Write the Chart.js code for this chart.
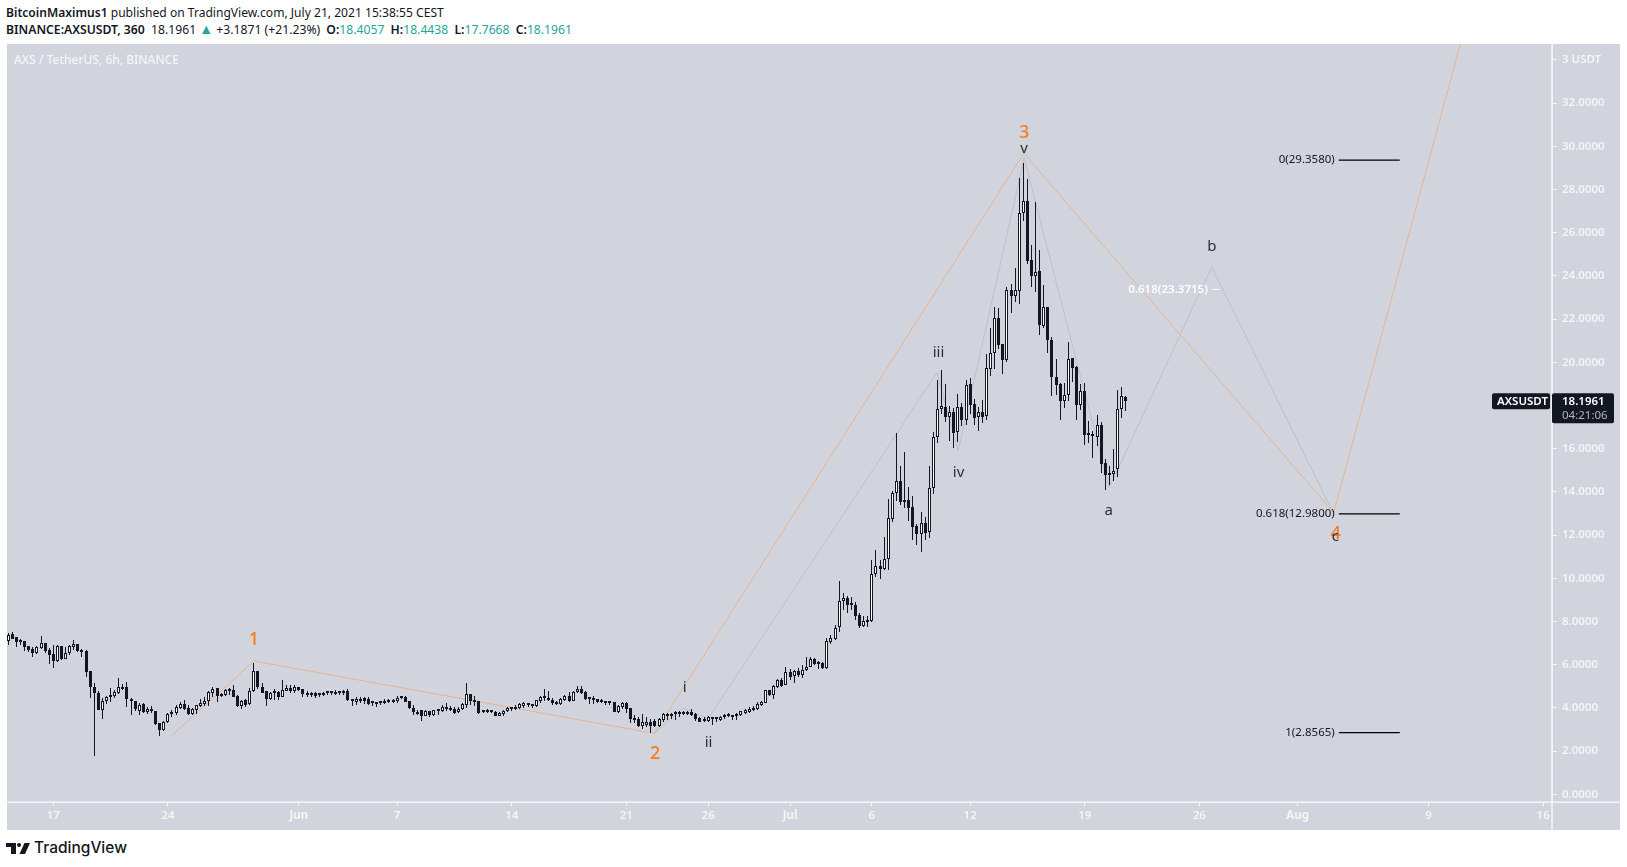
<!DOCTYPE html>
<html>
<head>
<meta charset="utf-8">
<script src="https://cdn.jsdelivr.net/npm/chart.js@4"></script>
<style>
    html, body { margin: 0; padding: 0; background: #fff; width: 1627px; height: 867px; overflow: hidden; }
    body { font-family: "Noto Sans", sans-serif; color: #131722; position: relative; }
    #panel { position: absolute; left: 7px; top: 44px; width: 1613px; height: 786px; background: #d1d4dc; }
    .line { position: absolute; left: 6px; white-space: nowrap; font-size: 12.2px; line-height: 16px; }
    .line b { font-weight: 600; }
    .teal { color: #26a69a; }
    .gap { margin-left: 3px; }
    .tri { font-size: 14px; line-height: 12px; }
    #line1 { top: 5px; font-size: 12.08px; }
    #line2 { top: 22px; }
    #watermark { position: absolute; left: 14px; top: 52px; font-size: 12px; font-weight: 500; line-height: 16px; color: #f4f5f8; }
    #logo { position: absolute; left: 6px; top: 843px; }
    #logoText { position: absolute; left: 34px; top: 838px; font-family: Inter, sans-serif; font-size: 15.5px; font-weight: 500; line-height: 20px; }
</style>
</head>
<body>
<div id="line1" class="line"><b>BitcoinMaximus1</b> published on TradingView.com, July 21, 2021 15:38:55 CEST</div>
<div id="line2" class="line"><b>BINANCE:AXSUSDT, 360</b>&nbsp; 18.1961 <span class="teal tri">▲</span> +3.1871 (+21.23%) <b class="gap">O:</b><span class="teal">18.4057</span> <b class="gap">H:</b><span class="teal">18.4438</span> <b class="gap">L:</b><span class="teal">17.7668</span> <b class="gap">C:</b><span class="teal">18.1961</span></div>
<div id="panel"><canvas id="myChart" width="1613" height="786"></canvas></div>
<div id="watermark">AXS / TetherUS, 6h, BINANCE</div>
<svg id="logo" width="24" height="11" viewBox="0 0 24 11"><path fill="#131722" d="M0 0h10v11H5V4H0z"/><circle fill="#131722" cx="13" cy="2" r="2"/><path fill="#131722" d="M13.5 11L18.5 0H24L19 11z"/></svg>
<div id="logoText">TradingView</div>

<script>
// candles, one every 6h, days are counted from May 17
const firstBarDay = -2.75;

const opens = [
    7.11,7.42,7.27,7.07,7.08,6.87,6.71,6.56,6.79,7.02,
    6.68,6.50,6.19,6.87,6.28,6.53,6.82,6.94,6.62,6.62,
    5.69,4.98,4.71,3.92,4.32,4.55,4.55,4.71,4.95,4.95,
    4.43,4.34,3.87,4.18,3.81,3.93,3.86,3.30,2.98,3.33,
    3.82,3.78,4.00,4.18,4.00,3.72,3.90,4.09,4.18,4.30,
    4.71,4.92,4.64,4.60,4.83,4.83,4.55,4.09,4.37,4.18,
    4.77,5.69,4.95,4.77,4.43,4.67,4.75,4.52,4.80,4.92,
    4.80,4.95,4.86,4.71,4.67,4.67,4.61,4.58,4.72,4.71,
    4.74,4.74,4.75,4.80,4.40,4.27,4.43,4.46,4.43,4.24,
    4.23,4.26,4.24,4.26,4.27,4.32,4.49,4.52,4.30,4.00,
    3.83,3.89,3.64,3.84,3.67,3.86,3.87,4.03,4.00,3.96,
    3.79,3.93,4.15,4.63,4.35,4.30,3.84,3.87,3.87,3.81,
    3.64,3.73,3.86,3.93,3.96,4.00,4.09,4.18,4.15,4.10,
    4.32,4.50,4.41,4.37,4.29,4.18,4.38,4.55,4.33,4.72,
    4.87,4.74,4.44,4.43,4.40,4.37,4.30,4.29,4.26,3.81,
    4.03,4.23,3.98,3.53,3.50,3.15,3.22,3.36,3.41,3.15,
    3.44,3.72,3.72,3.75,3.70,3.78,3.79,3.81,3.72,3.53,
    3.44,3.39,3.55,3.53,3.44,3.58,3.62,3.64,3.64,3.67,
    3.78,3.83,3.89,3.96,4.13,4.24,4.81,4.61,4.98,5.29,
    5.08,5.66,5.49,5.71,5.51,5.76,5.91,6.25,6.06,6.06,
    5.85,7.07,7.20,7.73,8.93,9.09,8.81,8.76,8.30,7.81,
    8.00,8.02,10.21,10.55,10.45,10.88,12.76,13.93,14.49,13.61,
    13.61,13.28,12.42,12.07,12.56,12.13,14.16,16.53,17.86,17.92,
    17.49,17.69,16.76,17.92,17.35,18.98,18.06,17.46,17.69,17.50,
    19.71,20.42,22.04,20.85,20.13,23.34,23.09,23.32,26.90,27.45,
    24.72,24.01,24.21,21.70,22.55,21.02,19.34,18.98,18.23,18.51,
    20.19,19.77,18.04,18.66,16.68,16.63,16.55,17.09,15.32,14.87,
    14.84,15.04,17.82,18.4057
];

const closes = [
    7.37,7.21,7.05,7.04,6.83,6.68,6.56,6.80,6.99,6.65,
    6.46,6.19,6.88,6.28,6.53,6.85,6.96,6.62,6.57,5.68,
    4.98,4.71,3.92,4.34,4.52,4.52,4.74,4.95,4.86,4.43,
    4.34,3.93,4.12,3.81,3.93,3.87,3.26,2.99,3.33,3.73,
    3.73,4.03,4.17,3.96,3.72,3.93,4.12,4.21,4.34,4.74,
    4.89,4.55,4.55,4.83,4.80,4.52,4.09,4.34,4.15,4.77,
    5.69,4.95,4.71,4.43,4.67,4.74,4.52,4.83,4.92,4.78,
    4.95,4.84,4.64,4.58,4.58,4.55,4.58,4.71,4.67,4.67,
    4.64,4.67,4.67,4.37,4.34,4.43,4.34,4.32,4.18,4.21,
    4.20,4.21,4.29,4.37,4.35,4.47,4.44,4.29,4.00,3.80,
    3.72,3.63,3.87,3.66,3.89,3.90,4.03,3.93,3.89,3.78,
    3.95,4.18,4.64,4.32,4.26,3.78,3.79,3.83,3.79,3.64,
    3.76,3.86,4.00,4.00,4.01,4.20,4.23,4.13,4.09,4.35,
    4.50,4.46,4.37,4.23,4.18,4.41,4.55,4.32,4.75,4.86,
    4.69,4.43,4.41,4.38,4.29,4.26,4.23,4.21,3.83,4.07,
    4.23,3.96,3.50,3.44,3.16,3.33,3.35,3.18,3.15,3.49,
    3.72,3.62,3.64,3.70,3.78,3.73,3.72,3.66,3.47,3.36,
    3.39,3.56,3.50,3.49,3.59,3.64,3.67,3.59,3.70,3.84,
    3.89,3.93,4.01,4.18,4.26,4.81,4.58,5.00,5.29,5.03,
    5.65,5.45,5.69,5.54,5.75,5.91,6.25,6.03,6.03,5.85,
    7.08,7.22,7.71,8.93,9.07,8.78,8.75,8.27,7.81,8.01,
    8.03,10.18,10.55,10.45,10.88,12.77,13.93,14.49,13.55,13.55,
    13.27,12.39,12.07,12.54,12.11,14.16,16.52,17.86,17.97,17.49,
    17.69,16.75,17.92,17.33,18.94,18.04,17.44,17.69,17.49,19.72,
    20.42,22.04,20.82,20.13,23.34,23.09,23.34,26.90,27.45,24.71,
    24.01,24.17,21.75,22.55,21.02,19.34,18.97,18.23,18.51,20.14,
    19.76,18.04,18.66,16.65,16.62,16.57,17.09,15.30,14.78,14.79,
    14.99,17.82,18.44,18.1961
];

const highs = [
    7.45,7.51,7.27,7.17,7.08,6.87,6.83,6.87,7.33,7.02,
    6.77,6.91,6.91,6.87,6.83,6.91,7.14,6.94,6.71,6.68,
    5.69,5.14,4.80,4.44,4.55,4.94,4.83,5.37,5.11,5.18,
    4.46,4.34,4.21,4.21,4.06,4.09,3.87,3.32,3.41,3.78,
    3.90,4.13,4.29,4.37,4.12,4.00,4.15,4.40,4.49,4.80,
    4.95,4.92,4.71,4.89,4.91,5.05,4.58,4.37,4.43,4.92,
    6.06,5.69,5.14,4.77,4.74,4.89,4.78,5.29,5.08,5.08,
    5.04,4.98,4.86,4.77,4.74,4.74,4.67,4.74,4.77,4.78,
    4.83,4.80,4.83,4.86,4.43,4.49,4.49,4.49,4.49,4.29,
    4.27,4.29,4.43,4.43,4.43,4.55,4.53,4.55,4.33,4.12,
    3.90,3.90,3.90,3.84,3.90,3.93,4.12,4.21,4.09,4.03,
    4.03,4.24,5.14,4.64,4.55,4.33,3.90,3.93,3.90,3.84,
    3.79,3.90,4.03,4.03,4.15,4.21,4.27,4.24,4.18,4.37,
    4.55,4.87,4.78,4.46,4.33,4.47,4.61,4.73,4.80,5.01,
    5.01,4.77,4.46,4.55,4.41,4.43,4.33,4.30,4.27,4.15,
    4.27,4.26,4.00,3.69,3.56,3.72,3.56,3.47,3.47,3.53,
    3.76,3.78,3.78,3.84,3.84,3.86,3.86,3.93,3.75,3.56,
    3.56,3.62,3.56,3.56,3.62,3.72,3.75,3.69,3.75,3.87,
    3.96,4.03,4.09,4.27,4.30,4.83,4.83,5.04,5.35,5.38,
    5.88,5.79,5.75,5.85,5.99,6.37,6.37,6.31,6.16,6.12,
    7.24,7.39,7.84,9.87,9.32,9.18,9.12,8.92,8.38,8.27,
    8.27,10.85,11.31,10.85,11.93,13.67,14.04,16.72,15.20,15.85,
    14.23,13.81,12.51,13.05,12.84,15.20,16.76,19.18,19.65,18.98,
    17.98,17.87,18.54,18.10,19.18,19.26,18.29,17.92,18.26,20.39,
    21.58,22.56,22.52,20.85,23.50,23.63,24.35,28.52,29.21,28.47,
    25.42,27.41,25.19,23.58,22.58,21.19,20.17,19.06,19.06,20.93,
    20.19,19.83,18.98,19.03,17.28,16.82,17.56,17.25,15.52,15.20,
    15.98,18.71,18.84,18.4438
];

const lows = [
    6.91,7.17,6.83,6.91,6.65,6.60,6.37,6.50,6.71,6.56,
    6.03,5.86,6.14,6.22,6.25,6.45,6.68,6.59,6.37,5.45,
    4.47,1.79,3.92,3.50,4.18,4.29,4.46,4.64,4.83,4.06,
    3.66,3.87,3.67,3.78,3.72,3.78,3.21,2.72,2.92,3.32,
    3.59,3.69,3.93,3.90,3.69,3.66,3.72,4.03,4.09,4.09,
    4.49,4.27,4.49,4.55,4.60,4.49,4.06,3.93,4.03,4.12,
    4.74,4.89,4.67,4.09,4.37,4.37,4.37,4.49,4.77,4.71,
    4.71,4.77,4.49,4.52,4.49,4.46,4.52,4.55,4.58,4.58,
    4.61,4.61,4.61,4.30,4.09,4.15,4.21,4.18,4.15,4.09,
    4.06,4.12,4.18,4.21,4.21,4.24,4.40,4.27,3.96,3.69,
    3.66,3.41,3.62,3.56,3.62,3.69,3.81,3.87,3.84,3.72,
    3.75,3.90,4.00,4.12,4.09,3.72,3.75,3.75,3.75,3.62,
    3.62,3.62,3.81,3.84,3.90,3.93,4.00,4.03,4.00,4.06,
    4.24,4.30,4.30,4.15,4.13,4.13,4.33,4.27,4.30,4.67,
    4.64,4.37,4.18,4.18,4.24,4.23,4.15,4.15,3.81,3.78,
    3.96,3.78,3.32,3.32,3.13,3.04,3.10,2.85,3.10,3.10,
    3.35,3.44,3.50,3.44,3.56,3.66,3.66,3.62,3.41,3.35,
    3.35,3.35,3.19,3.35,3.41,3.50,3.56,3.44,3.44,3.62,
    3.72,3.78,3.84,3.90,4.09,4.21,4.55,4.43,4.92,4.98,
    5.04,5.29,5.17,5.45,5.38,5.70,5.88,5.97,5.82,5.79,
    5.82,6.96,7.14,7.53,8.53,8.41,8.53,8.07,7.71,7.76,
    7.76,7.96,10.07,9.98,10.38,10.40,12.60,13.56,13.41,13.25,
    12.67,11.77,11.56,11.23,11.77,11.88,13.92,16.28,17.61,17.26,
    16.38,16.02,16.31,17.07,17.10,17.61,17.10,16.82,17.21,17.33,
    19.37,19.71,20.60,19.48,20.03,22.30,22.81,22.69,26.56,24.57,
    23.47,23.27,21.28,21.61,20.45,18.46,18.50,17.35,17.90,18.23,
    19.11,17.35,17.80,16.19,16.28,15.59,16.12,14.89,14.08,14.32,
    14.52,14.70,17.43,17.7668
];

// x axis
const tickDays = [0, 7, 15, 21, 28, 35, 40, 45, 50, 56, 63, 70, 76, 84, 91];
const tickLabels = ['17', '24', 'Jun', '7', '14', '21', '26', 'Jul', '6', '12', '19', '26', 'Aug', '9', '16'];
const monthLabels = ['Jun', 'Jul', 'Aug'];

// y axis
const priceTicks = [0, 2, 4, 6, 8, 10, 12, 14, 16, 18, 20, 22, 24, 26, 28, 30, 32, 34];

// wave count lines
const orangeDays = [7.25, 12.26, 36.7, 59.28, 78.2, 87];
const orangePrices = [2.73, 6.17, 2.82, 29.68, 13.04, 37.7];
const greyDays = [36.7, 38.45, 40, 53.98, 55.27, 59.3, 64.5, 70.75, 78.2];
const greyPrices = [2.82, 4.0, 3.5, 19.52, 15.9, 29.45, 14.2, 24.41, 13.0];

// wave labels
const majorNames = ['1', '2', '3', '4'];
const majorDays = [12.26, 36.76, 59.3, 78.33];
const majorPrices = [7.15, 1.85, 30.63, 12.05];
const minorNames = ['i', 'ii', 'iii', 'iv', 'v', 'a', 'b', 'c'];
const minorDays = [38.56, 40.02, 54.07, 55.29, 59.3, 64.47, 70.76, 78.3];
const minorPrices = [4.92, 2.39, 20.44, 14.89, 29.91, 13.14, 25.35, 11.91];

// fib levels
const fibNames = ['0(29.3580)', '0.618(12.9800)', '1(2.8565)'];
const fibPrices = [29.358, 12.98, 2.8565];
const fibLineDays = [78.52, 82.24];
const fibTextDay = 78.27;
const innerFibName = '0.618(23.3715)';
const innerFibPrice = 23.3715;
const innerFibDays = [70.8, 71.2];
const innerFibTextDay = 70.52;

const countdown = '04:21:06';
const symbol = 'AXSUSDT';

const axisFont = '"Noto Sans", sans-serif';
const darkColor = '#131722';
const axisColor = '#f4f5f8';

const barDays = opens.map((o, i) => firstBarDay + i * 0.25);

function pointsOf(xs, ys) {
    return xs.map((x, i) => ({x: x, y: ys[i]}));
}

const lineDefaults = {
    type: 'line',
    pointRadius: 0,
    tension: 0,
    fill: false
};

const fibDatasets = fibPrices.map(p => ({
    ...lineDefaults,
    label: 'fib ' + p,
    borderColor: '#000000',
    borderWidth: 1.2,
    order: 1,
    data: pointsOf(fibLineDays, [p, p])
}));

const data = {
    datasets: [{
            type: 'bar',
            label: 'Bodies',
            grouped: false,
            barThickness: 3,
            minBarLength: 2,
            inflateAmount: 0,
            borderWidth: 1,
            borderSkipped: false,
            borderColor: darkColor,
            backgroundColor: opens.map((o, i) => closes[i] >= o ? '#ffffff' : darkColor),
            order: 2,
            data: barDays.map((d, i) => ({x: d, y: [opens[i], closes[i]]}))
        },
        {
            type: 'bar',
            label: 'Wicks',
            grouped: false,
            barThickness: 1,
            inflateAmount: 0,
            backgroundColor: darkColor,
            order: 3,
            data: barDays.map((d, i) => ({x: d, y: [lows[i], highs[i]]}))
        },
        {
            ...lineDefaults,
            label: 'Main count',
            borderColor: '#e6b48d',
            borderWidth: 1,
            order: 4,
            data: pointsOf(orangeDays, orangePrices)
        },
        {
            ...lineDefaults,
            label: 'Sub count',
            borderColor: '#bdc0c8',
            borderWidth: 1,
            order: 5,
            data: pointsOf(greyDays, greyPrices)
        },
        ...fibDatasets,
        {
            ...lineDefaults,
            label: 'inner fib',
            borderColor: '#ffffff',
            borderWidth: 1.2,
            order: 1,
            data: pointsOf(innerFibDays, [innerFibPrice, innerFibPrice])
        }
    ]
};

// keeps the candles on whole pixels so they stay sharp
const snapBars = {
    id: 'snapBars',
    afterDatasetsUpdate(chart) {
        [0, 1].forEach(index => {
            chart.getDatasetMeta(index).data.forEach(bar => {
                bar.x = Math.floor(bar.x) + 0.5;
                const top = Math.round(Math.min(bar.y, bar.base));
                let bottom = Math.round(Math.max(bar.y, bar.base));
                if (index === 0 && bottom - top < 2) bottom = top + 2;
                bar.y = top;
                bar.base = bottom;
            });
        });
    }
};

// texts on the chart and the price tag
const chartTexts = {
    id: 'chartTexts',
    afterDraw(chart) {
        const ctx = chart.ctx;
        const x = chart.scales.x;
        const y = chart.scales.y;
        const area = chart.chartArea;

        // axis lines run on to the panel edges
        ctx.save();
        ctx.strokeStyle = axisColor;
        ctx.lineWidth = 1.5;
        ctx.beginPath();
        ctx.moveTo(0, area.bottom);
        ctx.lineTo(chart.width, area.bottom);
        ctx.moveTo(area.right, 0);
        ctx.lineTo(area.right, chart.height);
        ctx.stroke();

        ctx.textBaseline = 'middle';
        ctx.textAlign = 'center';
        ctx.font = '500 18px ' + axisFont;
        ctx.fillStyle = '#f57c1f';
        majorNames.forEach((n, i) => ctx.fillText(n, x.getPixelForValue(majorDays[i]), y.getPixelForValue(majorPrices[i])));

        ctx.font = '15px ' + axisFont;
        ctx.fillStyle = '#2a2e39';
        minorNames.forEach((n, i) => ctx.fillText(n, x.getPixelForValue(minorDays[i]), y.getPixelForValue(minorPrices[i])));

        ctx.textAlign = 'right';
        ctx.font = '11.5px ' + axisFont;
        ctx.fillStyle = darkColor;
        fibNames.forEach((n, i) => ctx.fillText(n, x.getPixelForValue(fibTextDay), y.getPixelForValue(fibPrices[i])));
        ctx.fillStyle = '#ffffff';
        ctx.font = '600 11.5px ' + axisFont;
        ctx.fillText(innerFibName, x.getPixelForValue(innerFibTextDay), y.getPixelForValue(innerFibPrice));

        // last price tag
        const lastY = y.getPixelForValue(closes[closes.length - 1]);
        ctx.fillStyle = darkColor;
        ctx.beginPath();
        ctx.roundRect(area.right - 60, lastY - 8, 58, 16, 2);
        ctx.fill();
        ctx.beginPath();
        ctx.roundRect(area.right, lastY - 8, 62, 30, 2);
        ctx.fill();
        ctx.textAlign = 'left';
        ctx.fillStyle = '#ffffff';
        ctx.font = '600 11.5px ' + axisFont;
        ctx.fillText(symbol, area.right - 55, lastY);
        ctx.fillText(closes[closes.length - 1].toFixed(4), area.right + 10, lastY);
        ctx.font = '11.5px ' + axisFont;
        ctx.fillStyle = '#b2b5be';
        ctx.fillText(countdown, area.right + 10, lastY + 14);
        ctx.restore();
    }
};

const options = {
    responsive: false,
    animation: false,
    layout: {padding: 0},
    plugins: {
        legend: {display: false},
        tooltip: {enabled: false}
    },
    scales: {
        x: {
            type: 'linear',
            offset: false,
            min: -2.827,
            max: 91.54,
            afterFit(scale) {
                scale.height = 27.7;
                scale.paddingLeft = 0;
                scale.paddingRight = 0;
            },
            afterBuildTicks(scale) { scale.ticks = tickDays.map(v => ({value: v})); },
            border: {color: axisColor, width: 1},
            grid: {offset: false, drawOnChartArea: false, color: axisColor, tickLength: 4},
            ticks: {
                autoSkip: false,
                maxRotation: 0,
                padding: 3,
                color: axisColor,
                font: ctx => ({
                    family: axisFont,
                    size: 11.5,
                    weight: monthLabels.includes(tickLabels[ctx.index]) ? '700' : '600'
                }),
                callback: (v, i) => tickLabels[i]
            }
        },
        y: {
            type: 'linear',
            position: 'right',
            min: -0.37,
            max: 34.738,
            afterFit(scale) {
                scale.width = 68;
                scale.paddingTop = 0;
                scale.paddingBottom = 0;
            },
            afterBuildTicks(scale) { scale.ticks = priceTicks.map(v => ({value: v})); },
            border: {color: axisColor, width: 1},
            grid: {drawOnChartArea: false, color: axisColor, tickLength: 5},
            ticks: {
                padding: 5,
                color: axisColor,
                font: {family: axisFont, size: 11.5, weight: '600'},
                callback: v => v === 34 ? '3 USDT' : v.toFixed(4)
            }
        }
    }
};

var ctx = document.getElementById('myChart').getContext('2d');

var candleChart = new Chart(ctx, {
    type: 'bar',
    data: data,
    options: options,
    plugins: [snapBars, chartTexts]
});
</script>
</body>
</html>
